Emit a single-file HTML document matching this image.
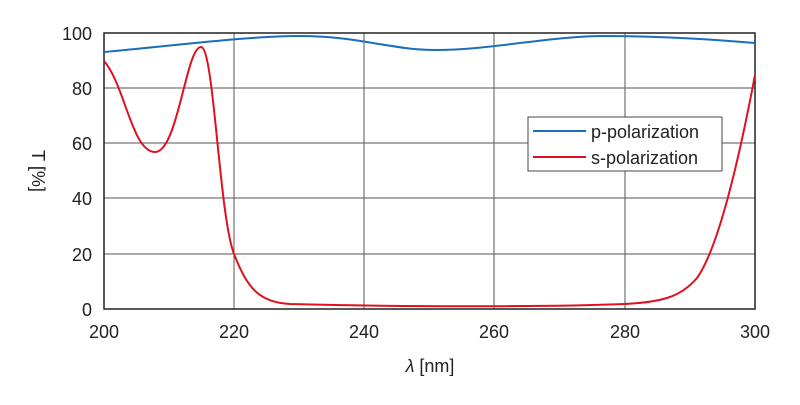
<!DOCTYPE html>
<html><head><style>body{margin:0;background:#fff}</style></head><body>
<svg width="800" height="400" xmlns="http://www.w3.org/2000/svg" font-family="Liberation Sans, sans-serif">
<rect width="800" height="400" fill="#fff"/>
<g stroke="#555" stroke-width="1">
<line x1="234" y1="33" x2="234" y2="309"/><line x1="364" y1="33" x2="364" y2="309"/>
<line x1="494" y1="33" x2="494" y2="309"/><line x1="625" y1="33" x2="625" y2="309"/>
<line x1="104" y1="88" x2="755" y2="88"/><line x1="104" y1="143" x2="755" y2="143"/>
<line x1="104" y1="198" x2="755" y2="198"/><line x1="104" y1="254" x2="755" y2="254"/>
</g>
<rect x="104" y="33" width="651" height="276" fill="none" stroke="#222" stroke-width="1.5"/>
<path d="M104,52 C180,45 250,36 299,36 C360,36 390,50 436,50 C490,50 550,36 605,36 C660,36 720,40 755,43" fill="none" stroke="#1a6fb8" stroke-width="2"/>
<path d="M104,61 C125,85 132,152 155,152 C178,152 186,47 201,47 C214,47 219,215 234,254 C248,290 260,302 290,304 C400,307 550,307 625,304 C660,302 680,298 697,278 C717,250 737,170 755,75" fill="none" stroke="#e0101e" stroke-width="2"/>
<rect x="528" y="117" width="194" height="54" fill="#fff" stroke="#444" stroke-width="1"/>
<line x1="533" y1="131" x2="586" y2="131" stroke="#1a6fb8" stroke-width="2"/>
<line x1="533" y1="157" x2="586" y2="157" stroke="#e0101e" stroke-width="2"/>
<g font-size="18" fill="#222">
<text x="591" y="138">p-polarization</text>
<text x="591" y="164">s-polarization</text>
</g>
<g font-size="18" fill="#222" text-anchor="end">
<text x="92" y="40">100</text><text x="92" y="95">80</text><text x="92" y="150">60</text>
<text x="92" y="205">40</text><text x="92" y="261">20</text><text x="92" y="316">0</text>
</g>
<g font-size="18" fill="#222" text-anchor="middle">
<text x="104" y="338">200</text><text x="234" y="338">220</text><text x="364" y="338">240</text>
<text x="494" y="338">260</text><text x="625" y="338">280</text><text x="755" y="338">300</text>
<text x="430" y="372"><tspan font-style="italic">λ</tspan> [nm]</text>
<text transform="translate(32,171) rotate(90)">T [%]</text>
</g>
</svg>
</body></html>
